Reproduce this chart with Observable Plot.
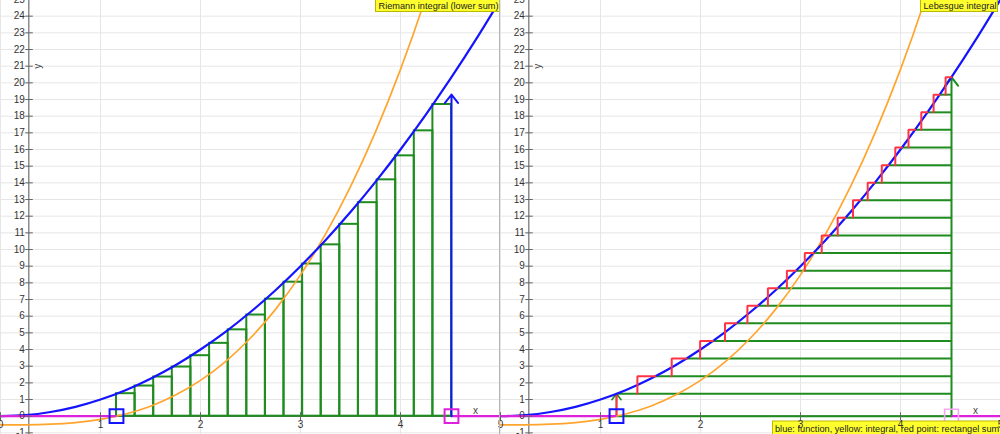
<!DOCTYPE html>
<html>
<head>
<meta charset="utf-8">
<script src="https://cdn.jsdelivr.net/npm/d3@7"></script>
<script src="https://cdn.jsdelivr.net/npm/@observablehq/plot@0.6"></script>
<style>
  body { margin: 0; background: #fff; }
  #wrap { position: relative; width: 1000px; height: 434px; overflow: hidden; font-family: "Liberation Sans", Arial, sans-serif; }
  .panel { position: absolute; top: 0; width: 500px; height: 434px; overflow: hidden; }
  .panel svg { display: block; }
  #divider { position: absolute; left: 499px; top: 0; width: 1px; height: 434px; background: #b4b4b4; }
</style>
</head>
<body>
<div id="wrap">
  <div class="panel" id="left" style="left:0"></div>
  <div class="panel" id="right" style="left:500px"></div>
  <div id="divider"></div>
</div>
<script>
// ---- values ----
const interval = [1.16, 4.51];            // integration bounds a, b
const xTicks = [0, 1, 2, 3, 4, 5];
const yTicks = [-1, 0, 1, 2, 3, 4, 5, 6, 7, 8, 9, 10, 11, 12, 13, 14, 15, 16, 17, 18, 19, 20, 21, 22, 23, 24, 25];

// blue: the function
const curveX = [0, 0.25, 0.5, 0.75, 1, 1.25, 1.5, 1.75, 2, 2.25, 2.5, 2.75, 3, 3.25, 3.5, 3.75, 4, 4.25, 4.5, 4.75, 5];
const blueY  = [0, 0.06, 0.25, 0.56, 1, 1.56, 2.25, 3.06, 4, 5.06, 6.25, 7.56, 9, 10.56, 12.25, 14.06, 16, 18.06, 20.25, 22.56, 25];

// yellow/orange: the integral
const orangeX = [0, 0.25, 0.5, 0.75, 1, 1.25, 1.5, 1.75, 2, 2.25, 2.5, 2.75, 3, 3.25, 3.5, 3.75, 4, 4.25, 4.5];
const orangeY = [-0.52, -0.52, -0.48, -0.38, -0.19, 0.13, 0.6, 1.27, 2.15, 3.28, 4.69, 6.41, 8.48, 10.92, 13.77, 17.06, 20.81, 25.07, 29.85];

// Riemann lower sum: 18 strips
const barEdges = [1.16, 1.346, 1.532, 1.718, 1.904, 2.091, 2.277, 2.463, 2.649, 2.835, 3.021, 3.207, 3.393, 3.579, 3.766, 3.952, 4.138, 4.324, 4.51];
const barHeights = [1.35, 1.81, 2.35, 2.95, 3.63, 4.37, 5.18, 6.07, 7.02, 8.04, 9.13, 10.28, 11.51, 12.81, 14.18, 15.62, 17.12, 18.7];
const riemannArrowTop = 19.3;

// Lebesgue: 18 slices of the range
const lebLevels = [1.35, 2.4, 3.46, 4.51, 5.57, 6.62, 7.68, 8.73, 9.79, 10.84, 11.9, 12.95, 14.01, 15.06, 16.12, 17.18, 18.23, 19.29, 20.34];
const lebLevelX = [1.16, 1.549, 1.86, 2.124, 2.36, 2.573, 2.771, 2.955, 3.129, 3.292, 3.45, 3.599, 3.743, 3.881, 4.015, 4.145, 4.27, 4.392, 4.51];
const lebStepX  = [1.369, 1.712, 1.996, 2.245, 2.469, 2.674, 2.864, 3.043, 3.212, 3.372, 3.525, 3.672, 3.813, 3.948, 4.08, 4.208, 4.331, 4.451];

// ---- styling ----
const BLUE = "#1414ff", ORANGE = "#ffa52e", GREEN = "#1f8c1f", RED = "#ff3344",
      MAGENTA = "#dd22dd", PALE = "#f4a8f4", GRID = "#e6e6e6";
const AXIS_X = 0.283;               // where the vertical axis crosses
const yDomain = [-1.098, 24.94];
const [a, b] = interval;
const xMin = xTicks[0], xMax = xTicks[xTicks.length - 1];

const blueCurve = curveX.map((x, i) => ({x, y: blueY[i]}));
const orangeCurve = orangeX.map((x, i) => ({x, y: orangeY[i]}));
const bars = barHeights.map((h, i) => ({x1: barEdges[i], x2: barEdges[i + 1], y1: 0, y2: h}));
const levelLines = lebLevels.slice(0, -1).map((y, i) => ({x1: lebLevelX[i], x2: b, y}));
const redSteps = lebStepX.flatMap((x, i) => [
  {k: i, x, y: lebLevels[i]},
  {k: i, x, y: lebLevels[i + 1]},
  {k: i, x: lebLevelX[i + 1], y: lebLevels[i + 1]}
]);
const outside = [{x1: xMin, x2: a}, {x1: b, x2: xMax}];

// yellow caption box drawn in pixel space
function noteBox(text, {x, y, w, h, tx, ty}) {
  return () => {
    const g = d3.create("svg:g");
    g.append("rect").attr("x", x).attr("y", y).attr("width", w).attr("height", h)
      .attr("fill", "#ffff2e").attr("stroke", "#b9b900").attr("stroke-width", 1);
    g.append("text").attr("x", tx).attr("y", ty).attr("font-size", 9.2)
      .attr("text-anchor", "start")
      .attr("fill", "#222").attr("font-family", "Liberation Sans, Arial, sans-serif").text(text);
    return g.node();
  };
}

function gridMarks() {
  return [
    Plot.ruleX(xTicks, {stroke: GRID, strokeWidth: 1}),
    Plot.ruleY(yTicks, {stroke: GRID, strokeWidth: 1}),
    Plot.ruleX([AXIS_X], {stroke: "#7a7a7a", strokeWidth: 1.3}),
    Plot.ruleY([0], {stroke: "#444", strokeWidth: 1.3})
  ];
}

function yAxisMarks() {
  return [
    Plot.link(yTicks, {x1: AXIS_X - 0.035, x2: AXIS_X + 0.04, y1: d => d, y2: d => d, stroke: "#666", strokeWidth: 1}),
    Plot.text(yTicks, {x: AXIS_X, y: d => d, text: d => String(d), dx: -4, textAnchor: "end", lineAnchor: "middle", fontSize: 10, fill: "#333"}),
    Plot.link(xTicks, {x1: d => d, x2: d => d, y1: -0.24, y2: 0.24, stroke: "#666", strokeWidth: 1}),
    Plot.text(["x"], {x: 4.75, y: 0, dy: -5, text: d => d, fontSize: 10, fill: "#444"}),
    Plot.text(["y"], {x: AXIS_X, y: 21, dx: 9, text: d => d, rotate: -90, fontSize: 10, fill: "#444"})
  ];
}

function xLabels() {
  return Plot.text(xTicks, {x: d => d, y: 0, dy: 9, text: d => String(d), lineAnchor: "middle", fontSize: 10, fill: "#333"});
}

function outsideMarks() {
  return Plot.link(outside, {x1: "x1", x2: "x2", y1: 0, y2: 0, stroke: MAGENTA, strokeWidth: 2.2});
}

const common = {
  width: 500, height: 434, margin: 0,
  x: {domain: [xMin, xMax], axis: null},
  y: {domain: yDomain, axis: null},
  style: {background: "white", fontFamily: "Liberation Sans, Arial, sans-serif", overflow: "hidden"}
};

// ---- Riemann (lower sum) ----
const left = Plot.plot({
  ...common,
  marks: [
    ...gridMarks(),
    Plot.rect(bars, {x1: "x1", x2: "x2", y1: "y1", y2: "y2", fill: "none", stroke: GREEN, strokeWidth: 2}),
    Plot.line(orangeCurve, {x: "x", y: "y", stroke: ORANGE, strokeWidth: 1.7, curve: "natural"}),
    Plot.line(blueCurve, {x: "x", y: "y", stroke: BLUE, strokeWidth: 2.2, curve: "natural"}),
    outsideMarks(),
    Plot.arrow([{x: b, y1: 0, y2: riemannArrowTop}], {x1: "x", x2: "x", y1: "y1", y2: "y2", stroke: BLUE, strokeWidth: 2, headLength: 8, headAngle: 75}),
    Plot.dot([{x: a, y: 0}], {x: "x", y: "y", symbol: "square", r: 7.8, fill: "none", stroke: BLUE, strokeWidth: 2}),
    Plot.dot([{x: b, y: 0}], {x: "x", y: "y", symbol: "square", r: 7.8, fill: "none", stroke: MAGENTA, strokeWidth: 2}),
    ...yAxisMarks(),
    xLabels(),
    noteBox("Riemann integral (lower sum)", {x: 375.5, y: -1, w: 124, h: 12.5, tx: 378.5, ty: 9})
  ]
});
document.getElementById("left").append(left);

// ---- Lebesgue ----
const right = Plot.plot({
  ...common,
  marks: [
    ...gridMarks(),
    Plot.link([{x1: a, x2: b}], {x1: "x1", x2: "x2", y1: 0, y2: 0, stroke: GREEN, strokeWidth: 2}),
    Plot.link(levelLines, {x1: "x1", x2: "x2", y1: "y", y2: "y", stroke: GREEN, strokeWidth: 2}),
    Plot.arrow([{x: b, y1: 0, y2: lebLevels[lebLevels.length - 1]}], {x1: "x", x2: "x", y1: "y1", y2: "y2", stroke: GREEN, strokeWidth: 2, headLength: 8, headAngle: 75}),
    Plot.arrow([{x: a, y1: 0, y2: lebLevels[0]}], {x1: "x", x2: "x", y1: "y1", y2: "y2", stroke: GREEN, strokeWidth: 1.6, headLength: 8, headAngle: 75}),
    Plot.link([{x: a, y1: 0, y2: lebLevels[0]}], {x1: "x", x2: "x", y1: "y1", y2: "y2", stroke: RED, strokeWidth: 2}),
    Plot.line(orangeCurve, {x: "x", y: "y", stroke: ORANGE, strokeWidth: 1.7, curve: "natural"}),
    Plot.line(blueCurve, {x: "x", y: "y", stroke: BLUE, strokeWidth: 2.2, curve: "natural"}),
    Plot.line(redSteps, {x: "x", y: "y", z: "k", stroke: RED, strokeWidth: 2, strokeLinejoin: "miter"}),
    outsideMarks(),
    Plot.dot([{x: a, y: 0}], {x: "x", y: "y", symbol: "square", r: 7.8, fill: "none", stroke: BLUE, strokeWidth: 2}),
    Plot.dot([{x: b, y: 0}], {x: "x", y: "y", symbol: "square", r: 7.8, fill: "none", stroke: PALE, strokeWidth: 1.6}),
    ...yAxisMarks(),
    noteBox("Lebesgue integral", {x: 420.5, y: -1, w: 77, h: 12.5, tx: 423.5, ty: 9}),
    noteBox("blue: function, yellow: integral, red point: rectangel sum", {x: 272.5, y: 421, w: 240, h: 20, tx: 275, ty: 431.5}),
    xLabels()
  ]
});
document.getElementById("right").append(right);
</script>
</body>
</html>
